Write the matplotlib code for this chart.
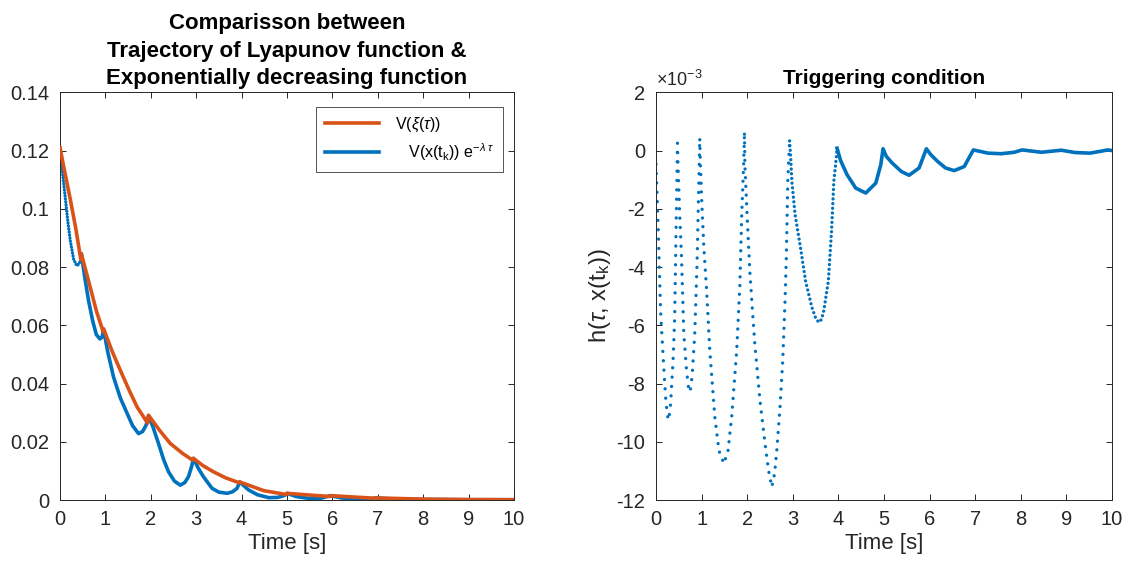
import numpy as np
import matplotlib.pyplot as plt
from matplotlib.ticker import FuncFormatter

plt.rcParams['font.family'] = ['Liberation Sans', 'DejaVu Sans']
plt.rcParams['mathtext.fontset'] = 'custom'
plt.rcParams['mathtext.rm'] = 'Liberation Sans'
plt.rcParams['mathtext.it'] = 'Liberation Sans:italic'
plt.rcParams['axes.unicode_minus'] = False

BLUE = '#0072BD'
ORANGE = '#D95319'
AX = '#262626'

# Lyapunov function along the trajectory (blue) and exponential bound (orange)
v_t = [0, 0.05, 0.117, 0.17, 0.227, 0.30, 0.37, 0.42, 0.46,
       0.47, 0.55, 0.63, 0.72, 0.80, 0.88, 0.93, 0.96,
       1.05, 1.18, 1.33, 1.48, 1.60, 1.73, 1.82, 1.90, 1.95,
       2.05, 2.17, 2.28, 2.39, 2.52, 2.65, 2.75, 2.83, 2.90, 2.94,
       3.05, 3.16, 3.35, 3.50, 3.68, 3.80, 3.90, 3.96,
       4.15, 4.35, 4.60, 4.80, 4.95, 5.00,
       5.20, 5.50, 5.75, 5.95, 6.20, 6.50, 6.80, 6.96,
       7.50, 8.00, 9.00, 10.0]
v_xi = [0.121, 0.113, 0.1037, 0.096, 0.089, 0.0827, 0.0804, 0.0810, 0.0830,
        0.0845, 0.0760, 0.0684, 0.0615, 0.0568, 0.0553, 0.0560, 0.0586,
        0.0510, 0.0422, 0.0350, 0.0297, 0.0255, 0.0228, 0.0235, 0.0258, 0.0290,
        0.0250, 0.0194, 0.0140, 0.0097, 0.0065, 0.0051, 0.0060, 0.0080, 0.0115, 0.0143,
        0.0108, 0.0080, 0.0040, 0.0027, 0.0023, 0.0028, 0.0040, 0.0062,
        0.0035, 0.0018, 0.0008, 0.0009, 0.0016, 0.0023,
        0.0012, 0.0005, 0.0006, 0.0015, 0.0007, 0.0003, 0.0003, 0.0007,
        0.0002, 0.0002, 0.0001, 0.0001]

e_t = [0, 0.10, 0.23, 0.35, 0.46, 0.47, 0.63, 0.80, 0.95, 0.96, 1.15, 1.33,
       1.52, 1.70, 1.93, 1.95, 2.20, 2.43, 2.70, 2.92, 2.94, 3.15, 3.38, 3.65,
       3.95, 3.96, 4.49, 4.98, 5.00, 5.50, 5.95, 5.96, 6.50, 6.95, 6.96, 7.5,
       8.0, 9.0, 10.0]
e_val = [0.121, 0.113, 0.103, 0.093, 0.0825, 0.0845, 0.0752, 0.0650, 0.0578,
         0.0588, 0.0510, 0.0445, 0.0378, 0.0319, 0.0264, 0.0291, 0.0238, 0.0194,
         0.0160, 0.0137, 0.0143, 0.0118, 0.0097, 0.0076, 0.0059, 0.0062, 0.0032,
         0.0019, 0.0023, 0.0017, 0.0012, 0.0015, 0.0010, 0.0006, 0.0007, 0.0005,
         0.0003, 0.00015, 0.0001]

# triggering condition h, in units of 1e-3
h_t = [0, 0.053, 0.10, 0.155, 0.21, 0.25, 0.28, 0.32, 0.375, 0.41, 0.434, 0.445, 0.46, 0.47,
       0.485, 0.52, 0.56, 0.61, 0.67, 0.71, 0.74, 0.77, 0.80, 0.85, 0.90, 0.94, 0.96,
       0.975, 1.0, 1.05, 1.11, 1.18, 1.29, 1.38, 1.49, 1.58, 1.66, 1.77, 1.84, 1.88, 1.92, 1.94,
       1.95, 2.0, 2.06, 2.12, 2.17, 2.28, 2.39, 2.47, 2.54, 2.60, 2.65, 2.72, 2.78, 2.83, 2.86, 2.89, 2.93,
       2.95, 2.98, 3.05, 3.17, 3.28, 3.42, 3.50, 3.57, 3.63, 3.68, 3.78, 3.85, 3.90, 3.95, 3.97,
       4.05, 4.19, 4.38, 4.60, 4.82, 4.93, 4.98,
       5.05, 5.18, 5.38, 5.55, 5.77, 5.93,
       6.03, 6.18, 6.35, 6.54, 6.76, 6.96,
       7.28, 7.57, 7.86, 8.03, 8.45, 8.89, 9.19, 9.52, 9.81, 9.9, 10.0]
h_val = [-0.47, -2.88, -5.5, -7.04, -8.47, -9.1, -9.26, -8.7, -7.2, -5.73, -3.34, -2.2, -1.0, 0.25,
         -0.6, -2.2, -3.68, -6.3, -7.56, -8.1, -8.3, -8.1, -7.56, -6.3, -3.9, -1.06, 0.37,
         -0.5, -1.63, -3.34, -4.8, -6.87, -9.15, -10.3, -10.75, -10.3, -9.15, -6.87, -4.6, -2.2, -0.6, 0.56,
         -0.49, -2.3, -4.2, -5.6, -6.7, -8.58, -10.06, -11.0, -11.55, -11.1, -10.29, -8.81, -7.21, -5.16, -3.57, -1.06, 0.33,
         -0.15, -1.06, -2.2, -3.34, -4.48, -5.39, -5.75, -5.9, -5.8, -5.5, -4.48, -2.77, -1.06, -0.32, 0.08,
         -0.35, -0.83, -1.29, -1.46, -1.12, -0.49, 0.06,
         -0.2, -0.43, -0.72, -0.85, -0.6, 0.06,
         -0.15, -0.38, -0.6, -0.69, -0.55, 0.02,
         -0.09, -0.11, -0.06, 0.02, -0.06, 0.01, -0.07, -0.09, -0.01, 0.02, 0.0]

v_t, v_xi, e_t, e_val = map(np.array, (v_t, v_xi, e_t, e_val))
h_t, h_val = np.array(h_t), np.array(h_val)


def style_axes(ax):
    for s in ax.spines.values():
        s.set_color(AX)
        s.set_linewidth(0.7)
    ax.tick_params(direction='in', top=True, right=True, length=4, width=0.7,
                   colors=AX, labelsize=14.5, labelcolor=AX)
    ax.tick_params(axis='x', pad=7)
    ax.tick_params(axis='y', pad=8)


fig = plt.figure(figsize=(11.32, 5.66), dpi=100)
ax1 = fig.add_axes([0.053, 0.1166, 0.401, 0.7204])
ax2 = fig.add_axes([0.5795, 0.1166, 0.4028, 0.7204])

# left panel
ax1.plot(e_t, e_val, color=ORANGE, lw=2.6, label=r'V($\xi$($\tau$))', zorder=3)
fast = v_t <= 0.47
ax1.plot(v_t[fast], v_xi[fast], color=BLUE, lw=2.4, linestyle=(0, (0.01, 0.9)),
         dash_capstyle='round', zorder=2)
ax1.plot(np.r_[v_t[fast][-1:], v_t[~fast]], np.r_[v_xi[fast][-1:], v_xi[~fast]],
         color=BLUE, lw=2.6, label=r'   V(x(t$_\mathregular{k}$)) e$^{-\lambda\ \tau}$', zorder=2)
ax1.set_xlim(0, 10)
ax1.set_ylim(0, 0.14)
ax1.set_xticks(np.arange(0, 11, 1))
ax1.set_yticks(np.arange(0, 0.141, 0.02))
ax1.yaxis.set_major_formatter(FuncFormatter(lambda v, p: '%g' % round(v, 3)))
ax1.set_xlabel('Time [s]', fontsize=16, color=AX, labelpad=3)
ax1.set_title('Comparisson between\nTrajectory of Lyapunov function &\nExponentially decreasing function',
              fontsize=16, fontweight='bold', linespacing=1.4, pad=6)
style_axes(ax1)
leg = ax1.legend(loc='upper right', bbox_to_anchor=(0.976, 0.964), fontsize=11.5,
                 frameon=True, fancybox=False, handlelength=3.4, borderpad=0.55,
                 labelspacing=0.45, handletextpad=1.0, borderaxespad=0)
leg.get_frame().set_edgecolor(AX)
leg.get_frame().set_linewidth(0.7)

# right panel: sampled segments drawn as dots, slow part solid
spacing = [(0.0, 0.47, 2.8), (0.47, 0.96, 2.8), (0.96, 1.94, 2.6),
           (1.94, 2.93, 2.6), (2.93, 3.97, 1.4)]
for a, b, sp in spacing:
    m = (h_t >= a) & (h_t <= b)
    ax2.plot(h_t[m], h_val[m], color=BLUE, lw=2.4, linestyle=(0, (0.01, sp)),
             dash_capstyle='round')
m = h_t >= 3.97
ax2.plot(h_t[m], h_val[m], color=BLUE, lw=2.6)
ax2.set_xlim(0, 10)
ax2.set_ylim(-12, 2)
ax2.set_xticks(np.arange(0, 11, 1))
ax2.set_yticks(np.arange(-12, 2.1, 2))
ax2.set_xlabel('Time [s]', fontsize=16, color=AX, labelpad=3)
ax2.set_ylabel(r'h($\tau$, x(t$_\mathregular{k}$))', fontsize=17, color=AX, labelpad=2)
ax2.set_title('Triggering condition', fontsize=15, fontweight='bold', pad=6)
ax2.text(0.0, 1.006, r'$\times$10$^{-3}$', transform=ax2.transAxes, fontsize=13,
         color=AX, va='bottom', ha='left')
style_axes(ax2)

fig.savefig('out.png', dpi=100)
